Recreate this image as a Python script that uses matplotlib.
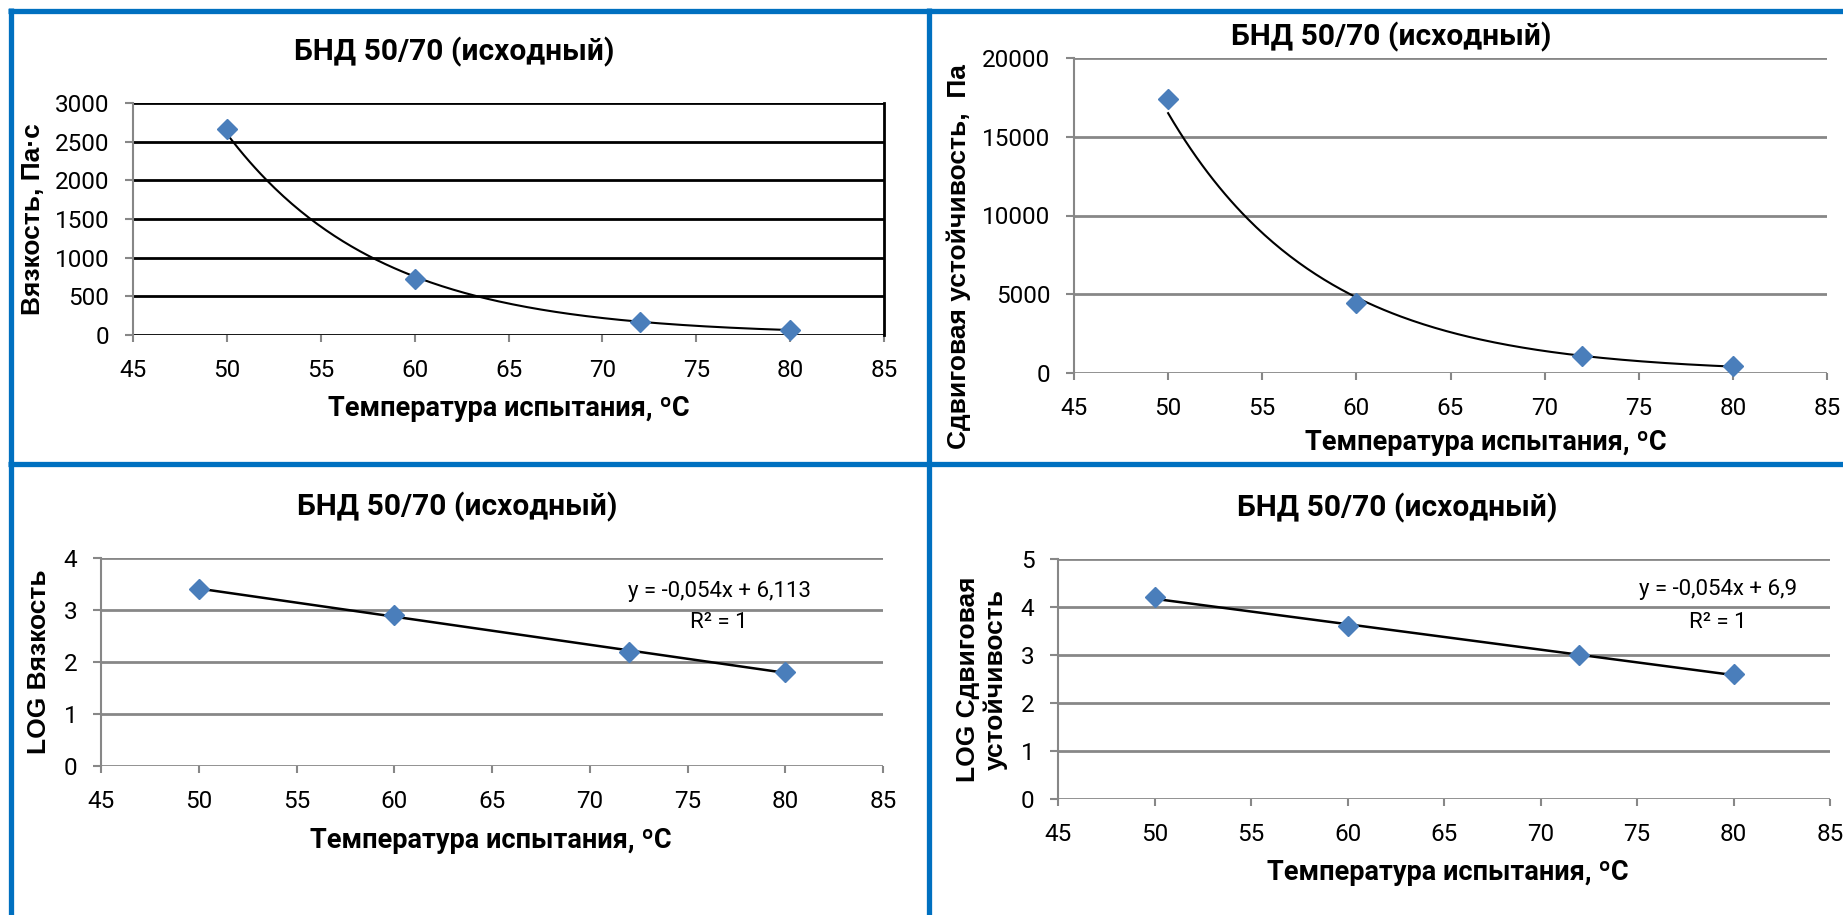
import numpy as np
import matplotlib
matplotlib.use("Agg")
import matplotlib.pyplot as plt
from matplotlib.lines import Line2D

## donnees
temp = [50, 60, 72, 80]
viscosity = [2670, 730, 170, 65]
shear = [17400, 4450, 1080, 420]
log_visc = [3.4, 2.9, 2.2, 1.8]
log_shear = [4.2, 3.6, 3.0, 2.6]

title = "БНД 50/70 (исходный)"
xlab = "Температура испытания, ºC"
ylab_visc = "Вязкость, Па·с"
ylab_shear = "Сдвиговая устойчивость,  Па"
ylab_logvisc = "LOG Вязкость"
ylab_logshear = "LOG Сдвиговая\nустойчивость"
eq_visc = "y = -0,054x + 6,113"
eq_shear = "y = -0,054x + 6,9"
r2_text = "R² = 1"

xticks = [45, 50, 55, 60, 65, 70, 75, 80, 85]

W, H = 1843, 915
CAL = ["Roboto", "DejaVu Sans"]
ARIAL = ["Liberation Sans", "DejaVu Sans"]
BLUE_MARK = "#4A7EBB"
GRID = "#878787"
FRAME = "#0070C0"

fig = plt.figure(figsize=(W / 100, H / 100), dpi=100)


def px(x, y):
    # pixel (origine en haut a gauche) -> fraction de figure
    return x / W, 1 - y / H


def make_ax(left, right, top, bottom, ymax, ystep, grid_color):
    x0, y1 = px(left, top)
    x1, y0 = px(right, bottom)
    ax = fig.add_axes([x0, y0, x1 - x0, y1 - y0])
    ax.set_xlim(45, 85)
    ax.set_ylim(0, ymax)
    ax.set_xticks(xticks)
    ax.set_yticks(np.arange(0, ymax + ystep, ystep))
    ax.yaxis.grid(True, color=grid_color, lw=2)
    ax.set_axisbelow(True)
    for s in ["top", "right", "bottom"]:
        ax.spines[s].set_visible(False)
    ax.spines["left"].set_color(GRID)
    ax.spines["left"].set_linewidth(1.5)
    ax.tick_params(axis="both", colors=GRID, labelcolor="black", width=1.5,
                   labelsize=17.5)
    ax.tick_params(axis="x", length=5, pad=12)
    ax.tick_params(axis="y", length=6, pad=11)
    for lbl in ax.get_xticklabels() + ax.get_yticklabels():
        lbl.set_family(CAL)
    return ax


def put(x, y, s, size, family, weight="normal", rot=0):
    fx, fy = px(x, y)
    fig.text(fx, fy, s, ha="center", va="center", fontsize=size,
             family=family, weight=weight, rotation=rot, multialignment="center")


def exp_trend(ax, x, y):
    # courbe de tendance exponentielle (ajustement sur log)
    k, b = np.polyfit(x, np.log(y), 1)
    xs = np.linspace(min(x), max(x), 200)
    ax.plot(xs, np.exp(b + k * xs), color="black", lw=1.5, zorder=2)


def lin_trend(ax, x, y):
    k, b = np.polyfit(x, y, 1)
    xs = np.array([min(x), max(x)])
    ax.plot(xs, b + k * xs, color="black", lw=1.8, zorder=2)


def markers(ax, x, y):
    ax.plot(x, y, "D", color=BLUE_MARK, ms=10, zorder=3, clip_on=False)


## graphique 1 : viscosite
ax1 = make_ax(133, 884, 103, 335, 3000, 500, "black")
ax1.spines["right"].set_visible(True)
ax1.spines["right"].set_color("black")
ax1.spines["right"].set_linewidth(2)
markers(ax1, temp, viscosity)
exp_trend(ax1, temp, viscosity)
put(454, 52, title, 21.5, CAL, "bold")
put(509, 409, xlab, 19.5, CAL, "bold")
put(33, 219, ylab_visc, 19, ARIAL, "bold", 90)

## graphique 2 : stabilite au cisaillement
ax2 = make_ax(1074, 1827, 58, 373, 20000, 5000, GRID)
markers(ax2, temp, shear)
exp_trend(ax2, temp, shear)
put(1391, 37, title, 21.5, CAL, "bold")
put(1486, 442, xlab, 19.5, CAL, "bold")
put(959, 257, ylab_shear, 19, ARIAL, "bold", 90)

## graphique 3 : log viscosite
ax3 = make_ax(101, 883, 558, 766, 4, 1, GRID)
markers(ax3, temp, log_visc)
lin_trend(ax3, temp, log_visc)
put(457, 507, title, 21.5, CAL, "bold")
put(491, 840, xlab, 19.5, CAL, "bold")
put(39, 662, ylab_logvisc, 19, ARIAL, "bold", 90)
put(719, 592, eq_visc, 16, CAL)
put(719, 623, r2_text, 16, CAL)

## graphique 4 : log stabilite
ax4 = make_ax(1058, 1830, 559, 799, 5, 1, GRID)
markers(ax4, temp, log_shear)
lin_trend(ax4, temp, log_shear)
put(1397, 508, title, 21.5, CAL, "bold")
put(1448, 873, xlab, 19.5, CAL, "bold")
put(982, 679, ylab_logshear, 19, ARIAL, "bold", 90)
put(1718, 590, eq_shear, 16, CAL)
put(1718, 622, r2_text, 16, CAL)

## cadres bleus
def frame_line(xa, ya, xb, yb):
    (fx0, fy0), (fx1, fy1) = px(xa, ya), px(xb, yb)
    fig.add_artist(Line2D([fx0, fx1], [fy0, fy1], transform=fig.transFigure,
                          color=FRAME, lw=3.8, solid_capstyle="butt"))

frame_line(8, 10.5, W, 10.5)
frame_line(10.5, 8, 10.5, H)
frame_line(928.5, 8, 928.5, H)
frame_line(8, 464, W, 464)

fig.savefig("out.png", dpi=100, facecolor="white")
